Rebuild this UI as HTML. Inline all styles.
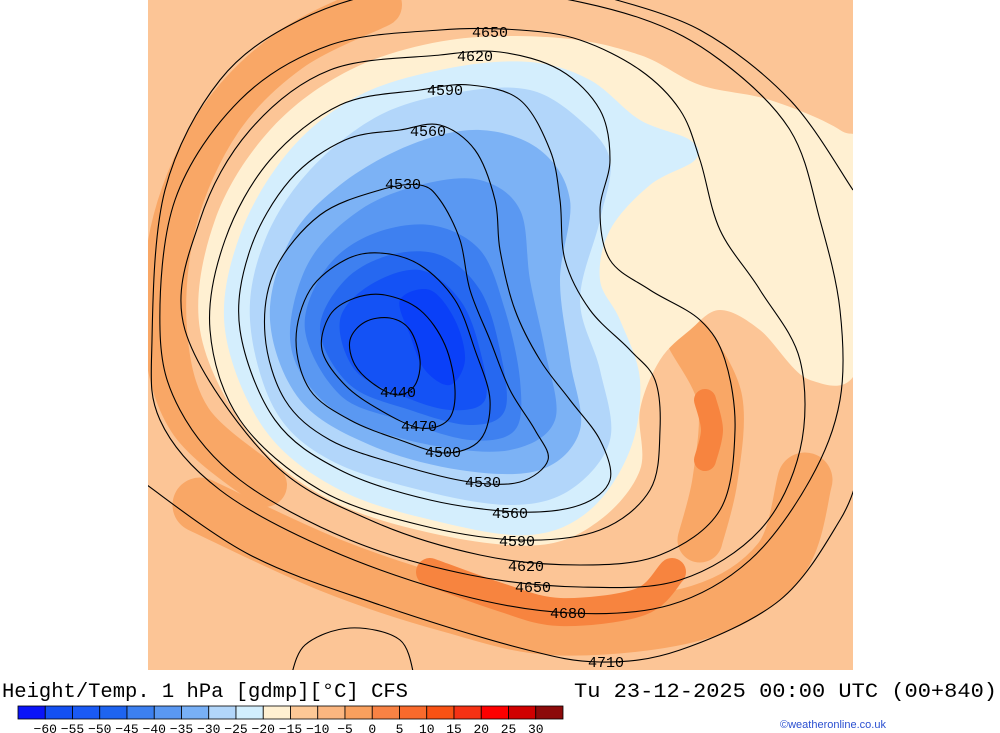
<!DOCTYPE html>
<html><head><meta charset="utf-8"><style>
html,body{margin:0;padding:0;background:#fff;width:1000px;height:733px;overflow:hidden}
svg{display:block}
</style></head><body>
<svg id="svg" width="1000" height="733" viewBox="0 0 1000 733" xmlns="http://www.w3.org/2000/svg">
<defs><clipPath id="mapclip"><rect x="148" y="0" width="705" height="670"/></clipPath></defs>
<g clip-path="url(#mapclip)">
<rect x="148" y="0" width="705" height="670" fill="#fcc596"/>
<g id="fills"></g>
<g id="contours" fill="none" stroke="#000" stroke-width="1.1"></g>
<g id="clabels" font-family="Liberation Mono, monospace" font-size="15" fill="#000"></g>
</g>
<text x="2" y="697" font-family="Liberation Mono, monospace" font-size="20" textLength="406" lengthAdjust="spacingAndGlyphs">Height/Temp. 1 hPa [gdmp][°C] CFS</text>
<text x="574" y="697" font-family="Liberation Mono, monospace" font-size="20" textLength="423" lengthAdjust="spacingAndGlyphs">Tu 23-12-2025 00:00 UTC (00+840)</text>
<g id="cbar"></g>
<text x="780" y="728" font-family="Liberation Sans, sans-serif" font-size="11" fill="#2a4fd0">©weatheronline.co.uk</text>
</svg>
<script>
const NS="http://www.w3.org/2000/svg";
const cbarColors=["#0a14f8","#1450f2","#1a5af5","#1e64f0","#3c80f0","#5a98f2","#78b0f6","#b2d6fa","#d2eefd","#fff0d2","#fdc896","#fbb680","#f9a05e","#f88244","#f96a2c","#f85214","#f53214","#fe0000","#d00000","#8c0a0a"];
const cbarLabels=["-60","-55","-50","-45","-40","-35","-30","-25","-20","-15","-10","-5","0","5","10","15","20","25","30"];
const contourLevels=[4440,4470,4500,4530,4560,4590,4620,4650,4680];
const contourPts=[
[[350,340],[365,322],[390,318],[410,330],[420,360],[415,385],[398,395],[375,385],[355,365]],
[[322,350],[330,315],[355,298],[385,295],[420,310],[445,345],[455,390],[448,420],[420,428],[380,410],[345,385]],
[[296,340],[310,290],[345,260],[380,253],[420,265],[455,300],[475,350],[490,400],[480,440],[445,453],[400,440],[350,420],[310,390]],
[[265,335],[275,270],[320,215],[380,190],[420,185],[440,200],[460,240],[470,290],[490,340],[510,390],[535,430],[548,460],[520,482],[470,482],[400,465],[330,440],[285,400]],
[[240,330],[250,250],[290,180],[345,140],[400,130],[440,125],[475,150],[495,200],[500,250],[515,310],[540,360],[570,400],[600,440],[610,480],[580,505],[520,512],[430,500],[340,470],[275,420]],
[[210,330],[225,240],[270,160],[340,105],[420,90],[470,85],[520,100],[550,150],[560,200],[565,260],[590,310],[630,350],[655,380],[660,430],[650,490],[600,530],[520,540],[420,525],[320,490],[240,420]],
[[185,330],[200,220],[250,130],[330,70],[440,55],[500,52],[560,70],[600,110],[610,160],[600,210],[610,260],[650,290],[700,320],[725,360],[735,430],[720,510],[660,555],[580,565],[480,555],[370,520],[270,460]],
[[160,330],[175,200],[240,100],[330,45],[440,30],[520,30],[580,40],[640,70],[680,110],[700,160],[720,230],[760,290],[800,360],[800,450],[760,530],[680,580],[580,587],[470,575],[350,540],[240,480],[180,410]],
[[152,340],[165,190],[220,80],[300,20],[400,-10],[520,-8],[640,18],[720,60],[790,130],[820,220],[840,310],[840,400],[810,480],[750,560],[670,605],[570,613],[460,595],[330,550],[220,490],[160,420]]
];
const openContours=[
[[140,480],[250,555],[380,605],[520,648],[600,662],[680,650],[780,600],[840,520],[860,470]],
[[290,680],[305,645],[350,628],[400,640],[415,680]],
[[600,-5],[700,30],[790,100],[853,190]]
];
const contourLabels=[["4650",490,31],["4620",475,55],["4590",445,89],["4560",428,130],["4530",403,183],["4440",398,391],["4470",419,425],["4500",443,451],["4530",483,481],["4560",510,512],["4590",517,540],["4620",526,565],["4650",533,586],["4680",568,612],["4710",606,661]];
const fillShapes=[
["#fff0d2",[[200,330],[215,220],[270,130],[350,70],[450,40],[560,38],[640,55],[700,85],[770,100],[840,130],[860,160],[860,360],[810,380],[760,330],[720,310],[690,330],[660,360],[640,410],[640,470],[600,520],[540,545],[440,535],[330,500],[250,435]]],
["#d4eefd",[[225,330],[240,235],[290,150],[360,95],[450,68],[530,62],[590,80],[640,120],[690,140],[695,160],[650,185],[610,230],[600,280],[620,320],[640,380],[630,450],[590,510],[530,535],[440,522],[340,490],[265,430]]],
["#b2d6fa",[[250,320],[265,240],[310,170],[380,115],[460,92],[530,90],[580,120],[610,160],[600,220],[580,300],[600,370],[610,440],[570,490],[510,505],[420,490],[330,460],[275,410]]],
["#7cb2f5",[[270,320],[290,240],[340,185],[410,145],[480,130],[540,150],[570,200],[560,280],[570,360],[580,430],[540,470],[460,470],[370,445],[300,400]]],
["#5a98f2",[[290,330],[310,260],[360,210],[420,185],[480,180],[520,210],[530,280],[545,350],[555,420],[510,450],[430,445],[350,420],[305,380]]],
["#3e80f0",[[305,330],[325,270],[370,235],[430,225],[480,250],[505,310],[520,380],[515,430],[470,440],[400,420],[340,395]]],
["#2668f0",[[320,330],[345,280],[390,255],[440,255],[480,290],[500,350],[505,410],[470,425],[410,410],[350,385]]],
["#1452f5",[[340,320],[370,285],[420,270],[460,300],[480,350],[485,400],[450,410],[400,395],[355,370]]],
["#0a40f8",[[400,300],[430,290],[455,320],[465,360],[450,385],[425,370],[410,335]]]
];
const orangeBands=[
["#f9a766",44,[[265,485],[190,420],[165,330],[175,220],[220,120],[290,50],[380,5]]],
["#f9a766",55,[[200,505],[330,565],[450,605],[560,628],[700,612],[780,560],[805,480]]],
["#f9a766",45,[[690,340],[720,400],[715,480],[700,540]]],
["#f7843f",28,[[430,572],[500,597],[560,612],[640,602],[672,572]]],
["#f7843f",22,[[705,400],[712,430],[705,460]]]
];
function cr(pts,closed){
  const n=pts.length;let d="M"+pts[0][0]+","+pts[0][1];
  const g=i=>closed?pts[(i+n)%n]:pts[Math.max(0,Math.min(n-1,i))];
  const m=closed?n:n-1;
  for(let i=0;i<m;i++){const p0=g(i-1),p1=g(i),p2=g(i+1),p3=g(i+2);
    d+=" C"+(p1[0]+(p2[0]-p0[0])/6).toFixed(1)+","+(p1[1]+(p2[1]-p0[1])/6).toFixed(1)+" "+(p2[0]-(p3[0]-p1[0])/6).toFixed(1)+","+(p2[1]-(p3[1]-p1[1])/6).toFixed(1)+" "+p2[0]+","+p2[1];}
  return closed?d+"Z":d;
}
const fills=document.getElementById("fills");
orangeBands.forEach((b,i)=>{const p=document.createElementNS(NS,"path");
p.setAttribute("d",cr(b[2],false));p.setAttribute("fill","none");p.setAttribute("stroke",b[0]);p.setAttribute("stroke-width",b[1]);p.setAttribute("stroke-linecap","round");p.setAttribute("stroke-linejoin","round");


fills.appendChild(p);});
fillShapes.forEach(f=>{const p=document.createElementNS(NS,"path");
p.setAttribute("d",cr(f[1],true));p.setAttribute("fill",f[0]);


fills.appendChild(p);});
const cg=document.getElementById("contours");
contourPts.forEach((pts,i)=>{const p=document.createElementNS(NS,"path");p.setAttribute("d",cr(pts,true));


cg.appendChild(p);});
openContours.forEach(pts=>{const p=document.createElementNS(NS,"path");p.setAttribute("d",cr(pts,false));


cg.appendChild(p);});
const lg=document.getElementById("clabels");
contourLabels.forEach(l=>{const r=document.createElementNS(NS,"rect");
r.setAttribute("x",l[1]-20);r.setAttribute("y",l[2]-8);r.setAttribute("width",40);r.setAttribute("height",16);r.setAttribute("fill","none");
const t=document.createElementNS(NS,"text");t.setAttribute("x",l[1]);t.setAttribute("y",l[2]+6);t.setAttribute("text-anchor","middle");t.textContent=l[0];


lg.appendChild(t);});
const cb=document.getElementById("cbar");
const x0=18,x1=563,bw=(x1-x0)/cbarColors.length;
cbarColors.forEach((c,i)=>{const r=document.createElementNS(NS,"rect");
r.setAttribute("x",x0+i*bw);r.setAttribute("y",706);r.setAttribute("width",bw);r.setAttribute("height",13);r.setAttribute("fill",c);r.setAttribute("stroke","#000");r.setAttribute("stroke-width","0.8");


cb.appendChild(r);});
cbarLabels.forEach((s,i)=>{const t=document.createElementNS(NS,"text");
t.setAttribute("x",x0+(i+1)*bw);t.setAttribute("y",733);t.setAttribute("text-anchor","middle");t.setAttribute("font-family","Liberation Mono, monospace");t.setAttribute("font-size","13");t.textContent=s.replace("-","\u2212");


cb.appendChild(t);});
</script>
</body></html>
